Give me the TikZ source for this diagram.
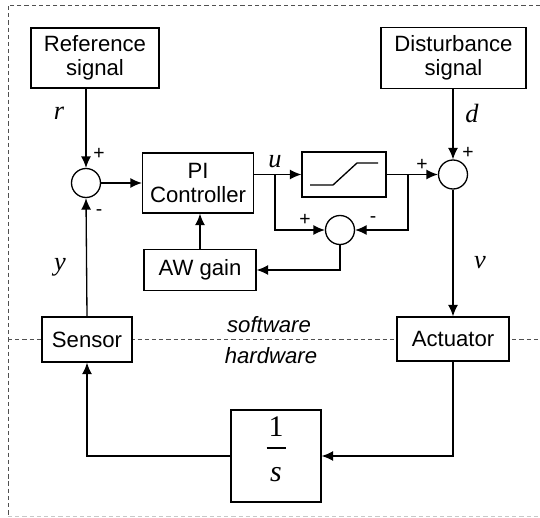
\documentclass[tikz,border=0pt]{standalone}
\usepackage{fontspec}
\setmainfont{Liberation Sans}
\newfontfamily\tms{Liberation Serif}
\usetikzlibrary{positioning,arrows.meta,calc}
\definecolor{frGray}{RGB}{80,80,80}
\definecolor{frLight}{RGB}{200,200,200}

\begin{document}
\begin{tikzpicture}[
  x=0.02cm, y=-0.02cm,
  font=\fontsize{12.6}{13.8}\selectfont,
  every node/.append style={align=center},
  box/.style={draw, line width=0.75pt, fill=white, inner sep=0pt},
  sum/.style={draw, circle, line width=0.75pt, fill=white, minimum size=0.58cm, inner sep=0pt},
  sgn/.style={font=\fontsize{11}{12}\selectfont, inner sep=0pt},
  var/.style={font=\tms\itshape\fontsize{15}{17}\selectfont, inner sep=0pt},
  side/.style={font=\itshape\fontsize{12.6}{13.8}\selectfont},
  wire/.style={line width=0.75pt},
  arr/.style={-{Latex[length=2.3mm, width=2mm]}, line width=0.75pt},
  frame/.style={draw=frGray, line width=0.5pt, dash pattern=on 2.4pt off 1.7pt},
]
\useasboundingbox (0,0) rectangle (540,517);
% frame and software/hardware border
\draw[frame] (540,5) -- (8,5) -- (8,516);
\draw[frame, draw=frLight] (8,516) -- (540,516);
\draw[frame] (8,339) -- (540,339);
\node[side] (lsw) at (269,325) {software};
\node[side] (lhw) at (271,356) {hardware};
% software blocks
\node[box, minimum width=2.56cm, minimum height=1.2cm] (ref) at (95,58) {Reference\\signal};
\node[box, minimum width=2.9cm, minimum height=1.22cm] (dist) at (453.5,58) {Disturbance\\signal};
\node[sum] (sum1) at (86,183) {};
\node[box, minimum width=2.22cm, minimum height=1.2cm] (pic) at (198,183) {PI\\Controller};
\node[box, minimum width=2.24cm, minimum height=0.82cm] (awg) at (200,270) {AW gain};
\node[box, minimum width=1.68cm, minimum height=0.9cm] (sat) at (344,174.5) {};
\node[sum] (sum2) at (453,174.5) {};
\node[sum] (aws) at (340,230) {};
\draw[wire] ($(sat)+(-34,10.5)$) -- ++(23,0) -- ++(24,-22) -- ++(21,0);
\coordinate (bu) at (275,174.5);
\coordinate (bs) at (408,174.5);
% hardware blocks
\node[box, minimum width=1.8cm, minimum height=0.9cm] (sens) at (87,339.5) {Sensor};
\node[box, minimum width=2.24cm, minimum height=0.88cm] (act) at (453,339) {Actuator};
\node[box, minimum width=1.8cm, minimum height=1.84cm] (plant) at (276,456) {};
\node[font=\tms\fontsize{17}{19}\selectfont, inner sep=0pt] (num) at (276,427) {1};
\node[font=\tms\itshape\fontsize{17}{19}\selectfont, inner sep=0pt] (den) at (276,475) {s};
\draw[line width=0.6pt] ($(plant)+(-9.5,-8)$) -- ($(plant)+(9.5,-8)$);
% connectors
\draw[arr] (ref.south -| sum1) -- (sum1.north);
\draw[arr] (sum1.east) -- (pic.west);
\draw[arr] (pic.east |- sat) -- (sat.west);
\draw[arr] (sat.east) -- (sum2.west);
\draw[arr] (dist.south -| sum2) -- (sum2.north);
\draw[arr] (sum2.south) -- (act.north);
\draw[arr] (bu) |- (aws.west);
\draw[arr] (bs) |- (aws.east);
\draw[arr] (aws.south) |- (awg.east);
\draw[arr] (awg.north) -- (awg.north |- pic.south);
\draw[arr] (act.south) |- (plant.east);
\draw[arr] (plant.west) -| (sens.south);
\draw[arr] (sens.north) -- (sum1.south);
% signals and signs
\node[var] (lr) at (59,113) {r};
\node[var] (ly) at (60,267) {y};
\node[var] (lu) at (275,162) {u};
\node[var] (ld) at (472,113) {d};
\node[var] (lv) at (480,263) {v};
\node[sgn] (p1) at (99,154) {+};
\node[sgn] (m1) at (99,213) {-};
\node[sgn] (p2) at (422,165) {+};
\node[sgn] (p3) at (468,153) {+};
\node[sgn] (p4) at (305,220) {+};
\node[sgn] (m4) at (373,220) {-};
\end{tikzpicture}
\end{document}
